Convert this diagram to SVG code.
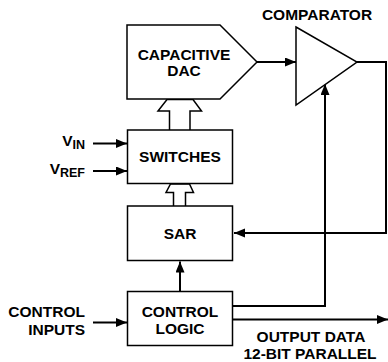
<svg xmlns="http://www.w3.org/2000/svg" width="388" height="362" viewBox="0 0 388 362">
<style>
.box{fill:#fff;stroke:#000;stroke-width:1.5}
.ln{fill:none;stroke:#000;stroke-width:2}
.t{font-family:"Liberation Sans",Arial,sans-serif;font-weight:bold;font-size:15.5px;fill:#000}
.m{text-anchor:middle}
.e{text-anchor:end}
.sub{font-size:12.5px}
</style>
<defs>
<marker id="ah" markerUnits="userSpaceOnUse" markerWidth="12" markerHeight="10" refX="11" refY="4.5" orient="auto">
<path d="M0,0 L11,4.5 L0,9 z" fill="#000"/>
</marker>
</defs>
<rect width="388" height="362" fill="#fff"/>
<g id="connectors">
<line class="ln" x1="257" y1="62" x2="296" y2="62" marker-end="url(#ah)"/>
<polyline class="ln" points="357,62 386,62 386,233 234,233" marker-end="url(#ah)"/>
<polyline class="ln" points="233,306 325,306 325,84" marker-end="url(#ah)"/>
<line class="ln" x1="180" y1="291.5" x2="180" y2="261.5" marker-end="url(#ah)"/>
<line class="ln" x1="93" y1="143.5" x2="127" y2="143.5" marker-end="url(#ah)"/>
<line class="ln" x1="93" y1="171" x2="127" y2="171" marker-end="url(#ah)"/>
<line class="ln" x1="93" y1="322.5" x2="127" y2="322.5" marker-end="url(#ah)"/>
<line class="ln" x1="233" y1="319.5" x2="388" y2="319.5" marker-end="url(#ah)"/>
<path class="box" d="M169.5,130 V111 H158 L167,99.5 H193 L201.5,111 H190 V130"/>
<path class="box" d="M173.5,206 V192.5 H166 L170.5,184 H189.5 L193.5,192.5 H185.5 V206"/>
</g>
<g id="dac">
<path class="box" d="M127,25 H220 L257,62 L220,99 H127 Z"/>
<text class="t m" x="184" y="59.5">CAPACITIVE</text>
<text class="t m" x="184" y="75.5">DAC</text>
</g>
<g id="comparator">
<path class="box" d="M296,27 L357,62 L296,105 Z"/>
<text class="t m" x="317" y="19.5">COMPARATOR</text>
</g>
<g id="switches">
<rect class="box" x="127.5" y="130" width="105" height="53.5"/>
<text class="t m" x="180" y="162">SWITCHES</text>
</g>
<g id="sar">
<rect class="box" x="127.5" y="206" width="105" height="54.5"/>
<text class="t m" x="180" y="239">SAR</text>
</g>
<g id="control-logic">
<rect class="box" x="127.5" y="291.5" width="105" height="54"/>
<text class="t m" x="180" y="316.5">CONTROL</text>
<text class="t m" x="180" y="333.5">LOGIC</text>
</g>
<g id="labels">
<text class="t e" x="85" y="146">V<tspan class="sub" dy="3">IN</tspan></text>
<text class="t e" x="85" y="174">V<tspan class="sub" dy="3">REF</tspan></text>
<text class="t e" x="85" y="316.5">CONTROL</text>
<text class="t e" x="85" y="335">INPUTS</text>
<text class="t m" x="311" y="341.5">OUTPUT DATA</text>
<text class="t m" x="310" y="358.5">12-BIT PARALLEL</text>
</g>
</svg>
